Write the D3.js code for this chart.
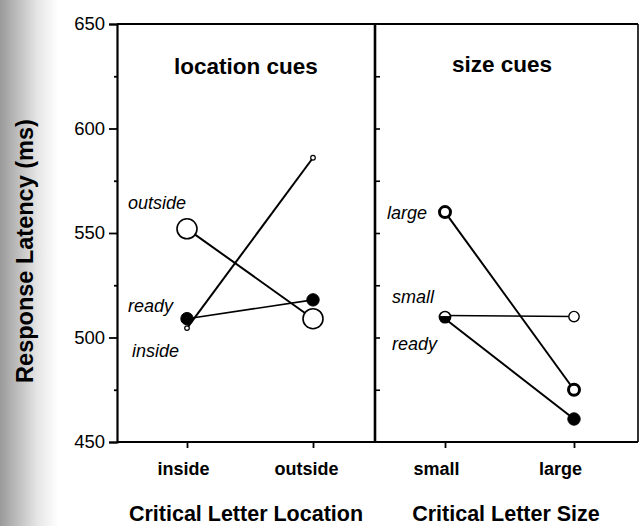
<!DOCTYPE html>
<html>
<head>
<meta charset="utf-8">
<script src="https://cdn.jsdelivr.net/npm/d3@7/dist/d3.min.js"></script>
<style>
  html, body { margin: 0; padding: 0; background: #fff; }
  svg { display: block; font-family: "Liberation Sans", Arial, Helvetica, sans-serif; }
</style>
</head>
<body>
<svg id="chart" width="639" height="526"></svg>
<script>
// ---- data ----
const yTicks = [450, 500, 550, 600, 650];
const yMinorTicks = [475, 525, 575, 625];
const locCategories = ["inside", "outside"];
const sizeCategories = ["small", "large"];
// location cues panel
const locOutsideCue = [552, 509];
const locReady = [509, 518];
const locInsideCue = [504.5, 586];
// size cues panel
const sizeLargeCue = [560, 475];
const sizeSmallCue = [510.5, 510];
const sizeReady = [509, 461];
const panelTitles = ["location cues", "size cues"];
const axisTitles = ["Critical Letter Location", "Critical Letter Size"];
const yTitle = "Response Latency (ms)";

(function () {
// ---- layout ----
const svg = d3.select("#chart");
const W = 639, H = 526;
const pLeft = 117, pMid = 375, pRight = 638, pTop = 24, pBottom = 442;

// scanned-page shadow on the left edge
const defs = svg.append("defs");
const grad = defs.append("linearGradient").attr("id", "shade").attr("x1", 0).attr("x2", 1);
grad.append("stop").attr("offset", "0%").attr("stop-color", "#9a9a9a");
grad.append("stop").attr("offset", "30%").attr("stop-color", "#bdbdbd");
grad.append("stop").attr("offset", "65%").attr("stop-color", "#e6e6e6");
grad.append("stop").attr("offset", "100%").attr("stop-color", "#ffffff");
svg.append("rect").attr("x", 0).attr("y", 0).attr("width", 58).attr("height", H).attr("fill", "url(#shade)");

const y = d3.scaleLinear().domain([450, 650]).range([pBottom, pTop]);
const xLoc = d3.scalePoint().domain(locCategories).range([187, 313]);
const xSize = d3.scalePoint().domain(sizeCategories).range([445, 574]);

// ---- frame ----
const frame = svg.append("g").attr("stroke", "#000").attr("fill", "none");
frame.append("line").attr("x1", pLeft).attr("x2", pRight).attr("y1", pTop).attr("y2", pTop).attr("stroke-width", 2);
frame.append("line").attr("x1", pLeft).attr("x2", pRight).attr("y1", pBottom).attr("y2", pBottom).attr("stroke-width", 2);
frame.append("line").attr("x1", pRight).attr("x2", pRight).attr("y1", pTop).attr("y2", pBottom).attr("stroke-width", 1.6);
frame.append("line").attr("x1", pMid).attr("x2", pMid).attr("y1", pTop - 1).attr("y2", pBottom + 1).attr("stroke-width", 2.6);

// y axis (major)
const yAxis = svg.append("g").attr("transform", `translate(${pLeft},0)`)
  .call(d3.axisLeft(y).tickValues(yTicks).tickSize(8).tickPadding(4).tickFormat(d3.format("d")));
yAxis.select(".domain").attr("stroke-width", 2.2);
yAxis.selectAll(".tick line").attr("stroke-width", 1.8);
yAxis.selectAll("text").attr("font-size", 18.5).attr("fill", "#000");
// y axis (minor)
const yMinor = svg.append("g").attr("transform", `translate(${pLeft},0)`)
  .call(d3.axisLeft(y).tickValues(yMinorTicks).tickSize(3).tickFormat(""));
yMinor.select(".domain").remove();
yMinor.selectAll(".tick line").attr("stroke-width", 1.8);
// divider ticks into right panel
const yDiv = svg.append("g").attr("transform", `translate(${pMid},0)`)
  .call(d3.axisRight(y).tickValues([475, 500, 525, 550, 575, 600, 625]).tickSize(5).tickFormat(""));
yDiv.select(".domain").remove();
yDiv.selectAll(".tick line").attr("stroke-width", 1.6);

// x axes
function xAxis(scale, offsets) {
  const g = svg.append("g").attr("transform", `translate(0,${pBottom})`)
    .call(d3.axisBottom(scale).tickSize(6).tickPadding(14));
  g.select(".domain").remove();
  g.selectAll(".tick line").attr("stroke-width", 1.8);
  g.selectAll("text").attr("font-size", 18).attr("font-weight", "bold").attr("fill", "#000")
    .attr("dx", (d, i) => offsets[i]);
}
xAxis(xLoc, [-4, -7]);
xAxis(xSize, [-9, -14]);

// axis titles
svg.append("text").attr("x", 246).attr("y", 521).attr("text-anchor", "middle")
  .attr("font-size", 21.5).attr("font-weight", "bold").text(axisTitles[0]);
svg.append("text").attr("x", 506).attr("y", 521).attr("text-anchor", "middle")
  .attr("font-size", 21.5).attr("font-weight", "bold").text(axisTitles[1]);
svg.append("text").attr("transform", "translate(33,251) rotate(-90)").attr("text-anchor", "middle")
  .attr("font-size", 23.5).attr("font-weight", "bold").text(yTitle);

// panel titles
svg.append("text").attr("x", 246).attr("y", 74).attr("text-anchor", "middle")
  .attr("font-size", 22.5).attr("font-weight", "bold").text(panelTitles[0]);
svg.append("text").attr("x", 502).attr("y", 72).attr("text-anchor", "middle")
  .attr("font-size", 22.5).attr("font-weight", "bold").text(panelTitles[1]);

// ---- series ----
function series(xs, cats, vals, lineW) {
  const pts = cats.map((c, i) => [xs(c), y(vals[i])]);
  svg.append("path").attr("d", d3.line()(pts)).attr("fill", "none").attr("stroke", "#000").attr("stroke-width", lineW);
  return pts;
}
function markers(pts, m) {
  svg.append("g").selectAll("circle").data(pts).join("circle")
    .attr("cx", d => d[0]).attr("cy", d => d[1]).attr("r", m.r)
    .attr("fill", m.fill).attr("stroke", "#000").attr("stroke-width", m.sw);
}
// location panel
const pInside = series(xLoc, locCategories, locInsideCue, 2);
const pOutside = series(xLoc, locCategories, locOutsideCue, 2);
const pReadyL = series(xLoc, locCategories, locReady, 1.6);
markers(pOutside, { r: 10, fill: "#fff", sw: 1.6 });
markers(pReadyL, { r: 6.2, fill: "#000", sw: 1 });
markers(pInside, { r: 2.3, fill: "#fff", sw: 1.2 });

// size panel
const pLarge = series(xSize, sizeCategories, sizeLargeCue, 2);
const pSmall = series(xSize, sizeCategories, sizeSmallCue, 1.5);
const pReadyR = series(xSize, sizeCategories, sizeReady, 2);
markers([pReadyR[1]], { r: 6.2, fill: "#000", sw: 1 });
markers(pLarge, { r: 5.5, fill: "#fff", sw: 3 });
markers([pSmall[1]], { r: 5.2, fill: "#fff", sw: 1.4 });
// overlapping small/ready marker at "small": open top, filled bottom
const cx0 = pReadyR[0][0], cy0 = (pReadyR[0][1] + pSmall[0][1]) / 2, rr = 5.6;
svg.append("circle").attr("cx", cx0).attr("cy", cy0).attr("r", rr)
  .attr("fill", "#fff").attr("stroke", "#000").attr("stroke-width", 1.6);
svg.append("path")
  .attr("d", `M${cx0 - rr},${cy0 - 0.5} A${rr},${rr} 0 0 0 ${cx0 + rr},${cy0 - 0.5} Z`)
  .attr("fill", "#000").attr("stroke", "#000").attr("stroke-width", 1);

// series labels
const lab = (x, yy, t) => svg.append("text").attr("x", x).attr("y", yy)
  .attr("font-size", 18).attr("font-style", "italic").text(t);
lab(128, 209, "outside");
lab(128, 312, "ready");
lab(132, 357, "inside");
lab(387, 219, "large");
lab(392, 303, "small");
lab(392, 350, "ready");
})();
</script>
</body>
</html>
